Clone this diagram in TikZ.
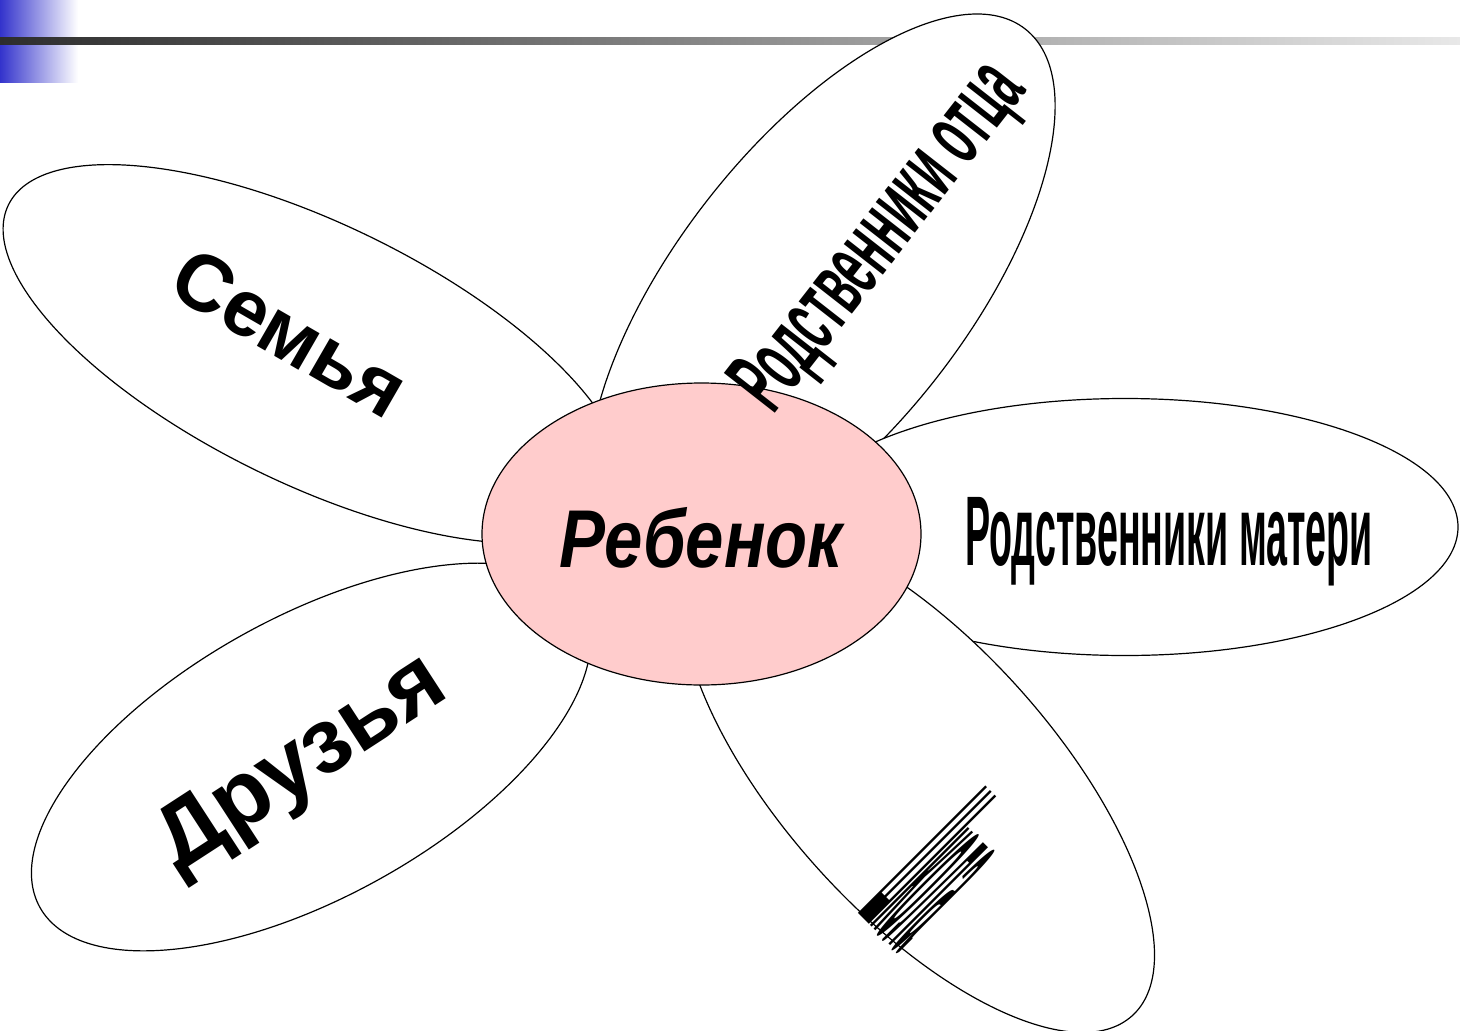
\documentclass[tikz,border=0pt]{standalone}
\usepackage{fontspec}
\setmainfont{Liberation Sans}
\usetikzlibrary{shapes.geometric}
\definecolor{hdrblue}{RGB}{51,51,204}
\definecolor{bardark}{RGB}{45,45,45}
\definecolor{barlight}{RGB}{232,232,232}
\definecolor{centerpink}{RGB}{255,204,204}
\tikzset{
  petal/.style={ellipse, draw=black, fill=white, line width=1.2pt, inner sep=0pt},
  hub/.style={ellipse, draw=black, fill=centerpink, line width=1.2pt, inner sep=0pt},
  lbl/.style={inner sep=0pt, text=black, font=\bfseries},
}
\begin{document}
\begin{tikzpicture}[x=1pt,y=-1pt]
  \useasboundingbox (0,0) rectangle (1460,1031);
  % header decoration
  \shade[left color=hdrblue, right color=white] (0,0) rectangle (78,82);
  \shade[left color=bardark, right color=barlight] (0,37) rectangle (1460,44);
  % petals
  \node[petal, minimum width=680pt, minimum height=260pt, rotate=-26] (semya) at (314,354) {};
  \node[petal, minimum width=620pt, minimum height=280pt, rotate=29] (druzya) at (311,757) {};
  \node[petal, minimum width=660pt, minimum height=290pt, rotate=52] (otca) at (822,289) {};
  \node[petal, minimum width=666pt, minimum height=257pt] (materi) at (1125,527) {};
  \node[petal, minimum width=640pt, minimum height=270pt, rotate=-48] (shkola) at (918,778) {};
  % centre
  \node[hub, minimum width=439pt, minimum height=302pt] (child) at (701.5,534) {};
  % labels
  \node[lbl] (childlbl) at (701,537.5) {\scalebox{0.84}[1]{\fontsize{82pt}{82pt}\selectfont\itshape Ребенок}};
  \node[lbl, rotate=-30] (semyalbl) at (290,333) {\fontsize{80pt}{80pt}\selectfont Семья};
  \node[lbl, rotate=33] (druzyalbl) at (303,766) {\fontsize{92pt}{92pt}\selectfont Друзья};
  \node[lbl, rotate=52] (otcalbl) at (882,239) {\scalebox{0.46}[1]{\fontsize{94pt}{94pt}\selectfont Родственники отца}};
  \node[lbl] (materilbl) at (1169,542) {\scalebox{0.38}[1]{\fontsize{99pt}{99pt}\selectfont Родственники матери}};
  \node[lbl, rotate=-45, anchor=base west] (shkolalbl) at (857,912) {\scalebox{0.068}[1]{\fontsize{262pt}{262pt}\selectfont Школа}};
\end{tikzpicture}
\end{document}
